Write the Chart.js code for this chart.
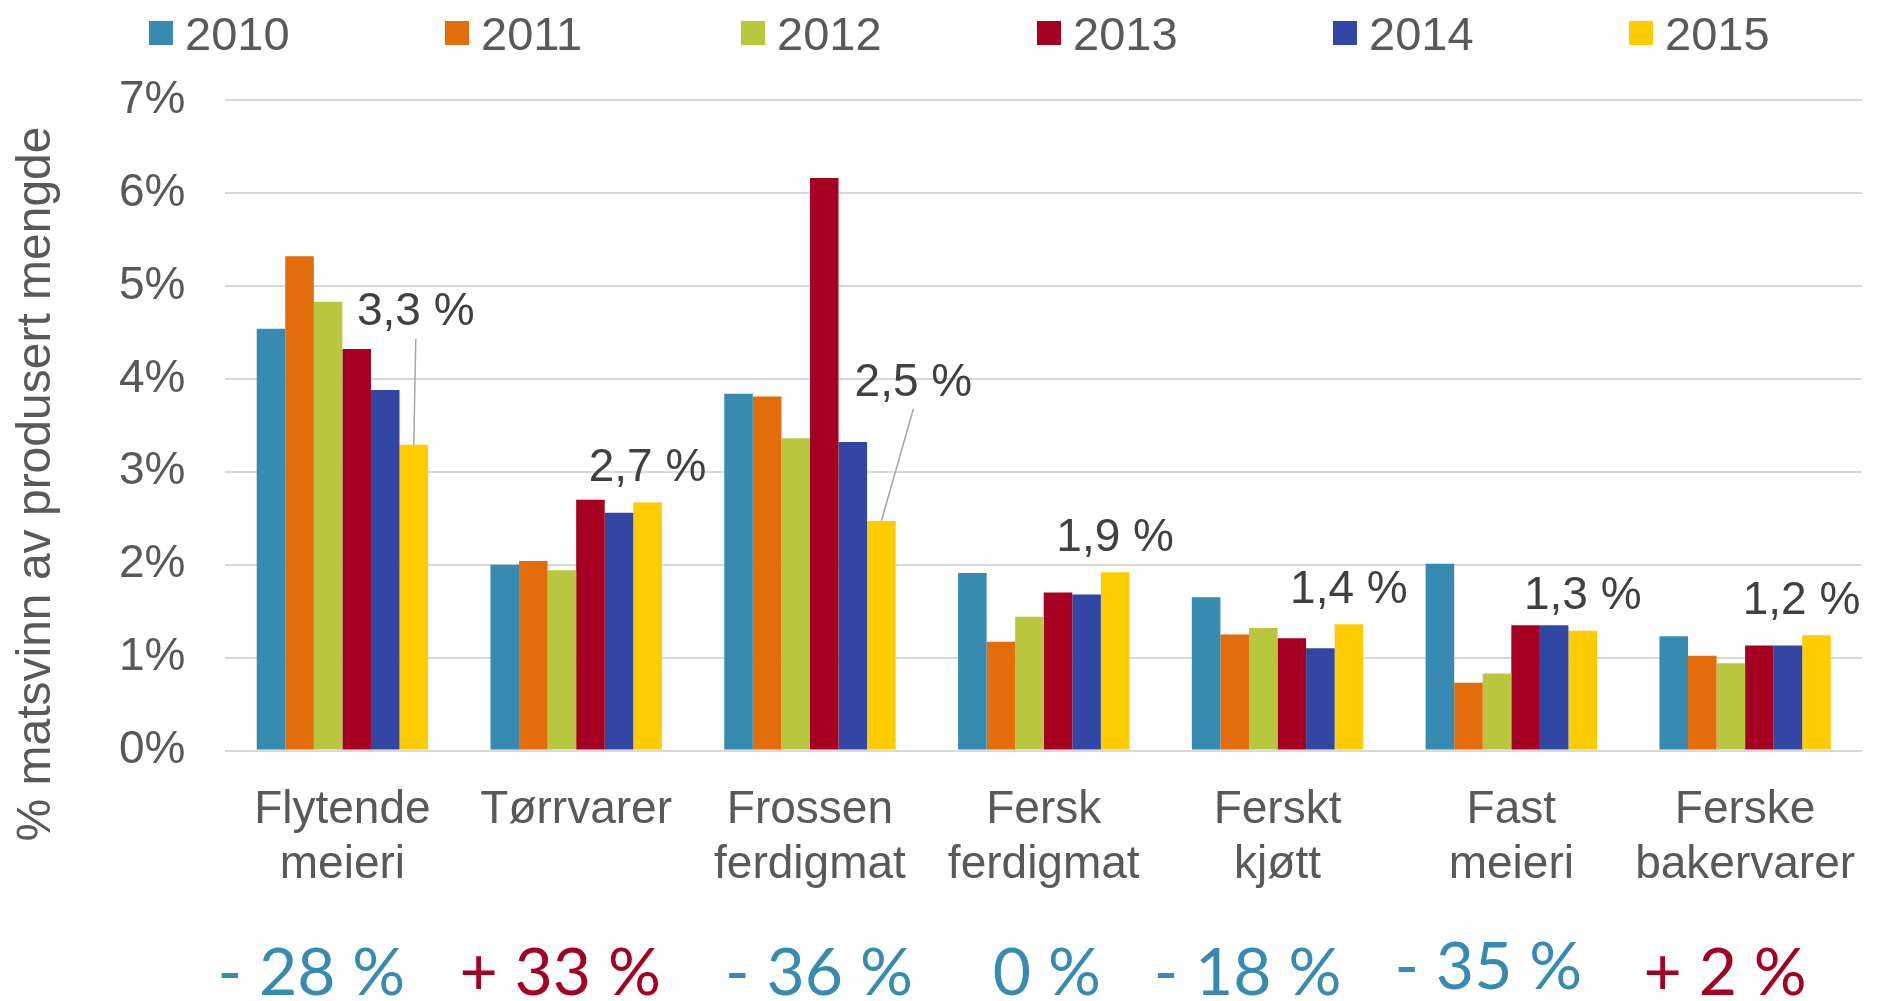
<!DOCTYPE html>
<html lang="no">
<head>
<meta charset="UTF-8">
<title>Matsvinn per varegruppe 2010-2015</title>
<script src="https://cdn.jsdelivr.net/npm/chart.js@4.4.1/dist/chart.umd.min.js"></script>
<style>
    html, body { margin: 0; padding: 0; background: #fff; }
    .chart-container { position: relative; width: 1885px; height: 1001px; }
</style>
</head>
<body>
<div class="chart-container"><canvas id="chart"></canvas></div>
<script>
// varegrupper (linjeskift som i originalen)
const categories = [
    ['Flytende', 'meieri'],
    ['Tørrvarer'],
    ['Frossen', 'ferdigmat'],
    ['Fersk', 'ferdigmat'],
    ['Ferskt', 'kjøtt'],
    ['Fast', 'meieri'],
    ['Ferske', 'bakervarer']
];
const years = ['2010', '2011', '2012', '2013', '2014', '2015'];

// % matsvinn av produsert mengde
const v2010 = [4.54, 2.00, 3.84, 1.91, 1.65, 2.01, 1.23];
const v2011 = [5.32, 2.04, 3.81, 1.17, 1.25, 0.73, 1.02];
const v2012 = [4.83, 1.94, 3.36, 1.44, 1.32, 0.83, 0.94];
const v2013 = [4.32, 2.70, 6.16, 1.70, 1.21, 1.35, 1.13];
const v2014 = [3.88, 2.56, 3.32, 1.68, 1.10, 1.35, 1.13];
const v2015 = [3.29, 2.67, 2.47, 1.92, 1.36, 1.29, 1.24];

// endring 2010 -> 2015, prosent
const change = [-28, 33, -36, 0, -18, -35, 2];

const yTicks = [0, 1, 2, 3, 4, 5, 6, 7];

const colors = ['#378BB0', '#E36C0B', '#B7C83F', '#A50021', '#3246A3', '#FFCC00'];
const textColor = '#595959';
const font = "'Liberation Sans', Arial, sans-serif";

// plassering av etiketter (ikke data)
const labelNudge = [
    {dx: 2, dy: -136, leader: true}, {}, {dx: 32, dy: -142, leader: true}, {}, {}, {}, {dx: -15}
];
const changeNudge = [
    {dx: -31}, {dx: -16}, {dx: 9}, {dx: 3}, {dx: -30}, {dx: -23, dy: -6}, {dx: -20}
];

function fmtValue(v) {
    return v.toFixed(1).replace('.', ',') + ' %';
}
function fmtChange(c) {
    if (c < 0) return '- ' + Math.abs(c) + ' %';
    if (c > 0) return '+ ' + c + ' %';
    return '0 %';
}

const extras = {
    id: 'extras',
    afterDraw(chart) {
        const ctx = chart.ctx;
        ctx.save();

        // legend
        ctx.font = '47px ' + font;
        ctx.textBaseline = 'alphabetic';
        ctx.textAlign = 'left';
        chart.data.datasets.forEach((ds, i) => {
            const x = 149 + i * 296;
            ctx.fillStyle = ds.backgroundColor;
            ctx.fillRect(x, 21, 24, 24);
            ctx.fillStyle = textColor;
            ctx.fillText(ds.label, x + 36, 50);
        });

        // y-axis title
        ctx.save();
        ctx.translate(50, 484);
        ctx.rotate(-Math.PI / 2);
        ctx.font = '48px ' + font;
        ctx.textAlign = 'center';
        ctx.fillStyle = textColor;
        ctx.fillText('% matsvinn av produsert mengde', 0, 0);
        ctx.restore();

        // 2015 value labels
        const meta = chart.getDatasetMeta(5);
        ctx.font = '46px ' + font;
        ctx.textAlign = 'center';
        meta.data.forEach((bar, i) => {
            const n = labelNudge[i];
            const cx = bar.x + (n.dx || 0);
            const cy = bar.y + (n.dy || -38);
            if (n.leader) {
                ctx.strokeStyle = '#A6A6A6';
                ctx.lineWidth = 1.5;
                ctx.beginPath();
                ctx.moveTo(cx, cy + 30);
                ctx.lineTo(bar.x, bar.y);
                ctx.stroke();
            }
            ctx.fillStyle = '#404040';
            ctx.fillText(fmtValue(v2015[i]), cx, cy + 16.5);
        });

        // change labels under the axis
        const xs = chart.scales.x;
        ctx.font = "66px Lato, 'Open Sans', sans-serif";
        change.forEach((c, i) => {
            const n = changeNudge[i];
            ctx.fillStyle = c > 0 ? '#A50021' : '#378BB0';
            ctx.fillText(fmtChange(c), xs.getPixelForValue(i) + (n.dx || 0), 995 + (n.dy || 0));
        });

        ctx.restore();
    }
};

const series = [v2010, v2011, v2012, v2013, v2014, v2015];

new Chart(document.getElementById('chart'), {
    type: 'bar',
    data: {
        labels: categories,
        datasets: series.map((vals, i) => ({
            label: years[i],
            data: vals,
            backgroundColor: colors[i],
            borderWidth: 0,
            categoryPercentage: 0.733,
            barPercentage: 1
        }))
    },
    options: {
        responsive: true,
        maintainAspectRatio: false,
        animation: false,
        layout: { padding: { top: 100, left: 79, right: 23, bottom: 84 } },
        plugins: {
            legend: { display: false },
            tooltip: { enabled: false }
        },
        scales: {
            x: {
                grid: { display: false },
                border: { display: false },
                ticks: {
                    color: textColor,
                    font: { family: font, size: 46 },
                    padding: 24,
                    maxRotation: 0,
                    autoSkip: false
                }
            },
            y: {
                min: 0,
                max: 7,
                afterBuildTicks: axis => { axis.ticks = yTicks.map(v => ({ value: v })); },
                grid: { color: '#D9D9D9', lineWidth: 2, drawTicks: false },
                border: { display: false },
                ticks: {
                    color: textColor,
                    font: { family: font, size: 46 },
                    padding: 40,
                    callback: v => v + '%'
                }
            }
        }
    },
    plugins: [extras]
});
</script>
</body>
</html>
